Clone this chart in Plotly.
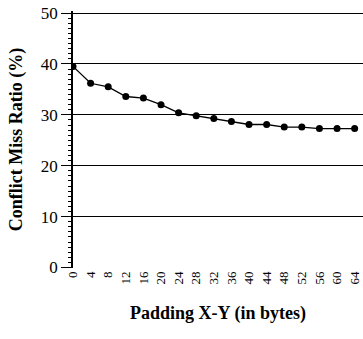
import plotly.graph_objects as go

padding = [0, 4, 8, 12, 16, 20, 24, 28, 32, 36, 40, 44, 48, 52, 56, 60, 64]
miss_ratio = [39.5, 36.2, 35.5, 33.6, 33.3, 32.0, 30.4, 29.8, 29.3, 28.7, 28.1, 28.1, 27.6, 27.6, 27.3, 27.3, 27.3]
y_ticks = [0, 10, 20, 30, 40, 50]

font = "Liberation Serif, Times New Roman, serif"

fig = go.Figure(go.Scatter(
    x=padding, y=miss_ratio, mode="lines+markers",
    line=dict(color="black", width=1.3),
    marker=dict(color="black", size=7),
))

fig.update_layout(
    width=363, height=339,
    margin=dict(l=73, r=0, t=11, b=71),
    paper_bgcolor="white", plot_bgcolor="white",
    showlegend=False,
    font=dict(family=font, color="black"),
)
fig.update_xaxes(
    range=[0, 65.9], tickvals=padding, ticktext=[str(p) for p in padding],
    tickangle=-90, tickfont=dict(size=13, family=font),
    showgrid=False, zeroline=False, showline=False, ticks="",
    title=dict(text="<b>Padding X-Y (in bytes)</b>", font=dict(size=18, family=font), standoff=22),
)
fig.update_yaxes(
    range=[-0.1, 50.4], tickvals=y_ticks,
    showgrid=True, gridcolor="black", gridwidth=1.3,
    zeroline=False, showline=True, linecolor="black", linewidth=1.5,
    ticks="outside", ticklen=10, tickcolor="black", tickwidth=1.3,
    tickfont=dict(size=17, family=font),
    minor=dict(dtick=1, ticks="outside", ticklen=3, tickcolor="black", tickwidth=1, showgrid=False),
    title=dict(text="<b>Conflict Miss Ratio (%)</b>", font=dict(size=18, family=font), standoff=14),
)

fig.write_html("out.html", config={"displayModeBar": False})
